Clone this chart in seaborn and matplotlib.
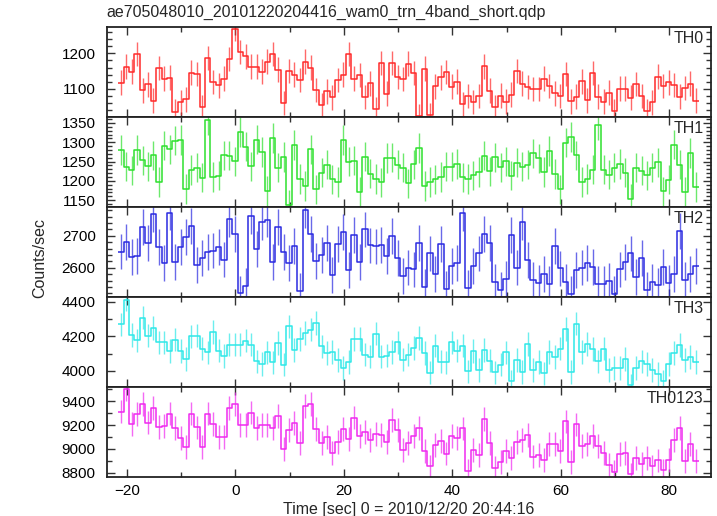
import numpy as np
import pandas as pd
import matplotlib as mpl
import matplotlib.pyplot as plt
import seaborn as sb
from matplotlib.ticker import MultipleLocator

mpl.use('Agg')

title = "ae705048010_20101220204416_wam0_trn_4band_short.qdp"

# 1 s bins, first bin centred at -21.1 s
t_first = -21.1
n_bins = 107
time = t_first + np.arange(n_bins)

th0 = [1117, 1162, 1148, 1198, 1095, 1112, 1066, 1159, 1128, 1131, 1035, 1061, 1070, 1145, 1142, 1048,
       1187, 1119, 1109, 1128, 1184, 1269, 1204, 1192, 1162, 1162, 1148, 1177, 1198, 1154, 1059, 1150,
       1140, 1125, 1177, 1160, 1096, 1054, 1092, 1075, 1125, 1140, 1198, 1128, 1139, 1076, 1115, 1042,
       1173, 1086, 1173, 1133, 1127, 1171, 1144, 1022, 1157, 1024, 1107, 1132, 1147, 1106, 1120, 1056,
       1079, 1062, 1079, 1163, 1094, 1047, 1080, 1063, 1083, 1150, 1114, 1105, 1099, 1099, 1128, 1108,
       1087, 1079, 1142, 1064, 1077, 1121, 1067, 1144, 1077, 1063, 1089, 1037, 1100, 1100, 1074, 1113,
       1079, 1037, 1061, 1134, 1108, 1118, 1110, 1077, 1102, 1114, 1066]
th1 = [1280, 1237, 1227, 1280, 1253, 1238, 1266, 1197, 1291, 1282, 1304, 1306, 1179, 1228, 1234, 1208,
       1358, 1210, 1213, 1266, 1265, 1251, 1327, 1289, 1238, 1307, 1275, 1174, 1311, 1234, 1262, 1137,
       1293, 1205, 1187, 1282, 1178, 1221, 1242, 1204, 1197, 1306, 1250, 1252, 1172, 1263, 1219, 1205,
       1196, 1259, 1260, 1242, 1234, 1194, 1243, 1285, 1187, 1197, 1204, 1210, 1237, 1237, 1244, 1209,
       1205, 1214, 1223, 1265, 1225, 1261, 1235, 1251, 1213, 1247, 1237, 1242, 1271, 1258, 1223, 1277,
       1218, 1178, 1299, 1314, 1266, 1197, 1205, 1229, 1344, 1229, 1216, 1234, 1244, 1221, 1153, 1234,
       1226, 1214, 1234, 1248, 1173, 1203, 1294, 1242, 1171, 1272, 1184]
th2 = [2651, 2682, 2634, 2636, 2728, 2677, 2767, 2664, 2614, 2773, 2619, 2664, 2696, 2732, 2608, 2631,
       2650, 2654, 2665, 2626, 2753, 2707, 2520, 2543, 2761, 2660, 2742, 2751, 2619, 2727, 2649, 2614,
       2668, 2527, 2782, 2707, 2621, 2640, 2678, 2578, 2675, 2711, 2593, 2703, 2618, 2720, 2670, 2667,
       2671, 2637, 2699, 2630, 2574, 2601, 2595, 2677, 2541, 2645, 2582, 2674, 2534, 2605, 2614, 2770,
       2536, 2607, 2645, 2707, 2678, 2557, 2532, 2566, 2703, 2601, 2742, 2624, 2563, 2553, 2582, 2549,
       2668, 2598, 2555, 2518, 2593, 2601, 2616, 2603, 2549, 2549, 2559, 2518, 2595, 2619, 2645, 2572,
       2632, 2532, 2556, 2545, 2603, 2553, 2582, 2716, 2561, 2580, 2605]
th3 = [4270, 4414, 4208, 4177, 4309, 4204, 4250, 4165, 4165, 4115, 4181, 4115, 4070, 4200, 4204, 4130,
       4107, 4227, 4118, 4087, 4153, 4153, 4153, 4175, 4153, 4056, 4041, 4107, 4049, 4163, 4037, 4258,
       4122, 4186, 4219, 4239, 4278, 4142, 4103, 4109, 4064, 4017, 4052, 4186, 4186, 4095, 4083, 4216,
       4083, 4089, 4111, 4165, 4065, 4095, 4134, 4192, 4103, 3990, 4146, 4054, 4049, 4165, 4118, 4146,
       3998, 4115, 4006, 4122, 4060, 3992, 4037, 4107, 3940, 4064, 3994, 4157, 4006, 4052, 3986, 4111,
       4080, 4130, 4243, 3994, 4274, 4111, 4157, 4126, 4056, 4130, 4006, 4017, 4017, 4068, 3917, 4017,
       4056, 4041, 4006, 3982, 3940, 4041, 4103, 4150, 4064, 4080, 4052]
th0123 = [9314, 9500, 9208, 9292, 9381, 9222, 9342, 9186, 9194, 9297, 9175, 9092, 9014, 9297, 9181, 9014,
          9297, 9208, 9103, 9103, 9347, 9375, 9203, 9203, 9306, 9175, 9203, 9203, 9175, 9278, 9000, 9158,
          9217, 9047, 9364, 9381, 9169, 9047, 9103, 8964, 9058, 9167, 9083, 9264, 9111, 9144, 9075, 9125,
          9119, 9055, 9242, 9158, 8994, 9053, 9108, 9175, 8980, 8853, 9033, 9064, 8961, 9108, 9092, 9172,
          8814, 8992, 8947, 9250, 9053, 8841, 8889, 8983, 8925, 9058, 9075, 9119, 8936, 8947, 8908, 9042,
          9042, 8980, 9231, 8891, 9206, 9025, 9042, 9108, 9025, 8969, 8864, 8808, 8958, 8969, 8786, 8925,
          8875, 8925, 8853, 8903, 8819, 8908, 9075, 9175, 8897, 9042, 8900]

bands = ["TH0", "TH1", "TH2", "TH3", "TH0123"]
series = [th0, th1, th2, th3, th0123]
errors = [35, 38, 56, 68, 100]
colours = ["#ff2a2a", "#2ee02e", "#2a2ae0", "#2ee8e8", "#f02af0"]
ylims = [(1019, 1274), (1132, 1365), (2509, 2790), (3908, 4429), (8767, 9522)]
major_step = [100, 50, 100, 200, 200]
minor_step = [20, 10, 20, 100, 100]

sb.set_theme(style="ticks")
plt.rcParams['font.family'] = ['Liberation Sans', 'DejaVu Sans']
plt.rc('xtick', labelsize=11)
plt.rc('ytick', labelsize=11)

fig, axes = plt.subplots(5, 1, sharex=True, figsize=(7.17, 5.16), dpi=100)
fig.subplots_adjust(left=0.149, right=0.9916, top=0.947, bottom=0.0762, hspace=0)

for i, ax in enumerate(axes):
    df = pd.DataFrame({'time': time, 'rate': series[i]})
    sb.lineplot(x='time', y='rate', data=df, drawstyle='steps-mid', color=colours[i],
                linewidth=1.1, ax=ax)
    # half bins at both ends so the steps cover whole bins
    ax.hlines([series[i][0], series[i][-1]], [time[0] - 0.5, time[-1]], [time[0], time[-1] + 0.5],
              color=colours[i], linewidth=1.1)
    ax.vlines(df['time'], df['rate'] - errors[i], df['rate'] + errors[i],
              color=colours[i], linewidth=1.0, alpha=0.7)
    ax.set_ylim(*ylims[i])
    ax.set_xlim(-23.7, 87.7)
    ax.yaxis.set_major_locator(MultipleLocator(major_step[i]))
    ax.yaxis.set_minor_locator(MultipleLocator(minor_step[i]))
    ax.xaxis.set_major_locator(MultipleLocator(20))
    ax.xaxis.set_minor_locator(MultipleLocator(10))
    ax.tick_params(which='both', direction='in', top=True, right=True, colors='#333333',
                   labelcolor='black', width=1.0)
    ax.tick_params(which='major', length=6)
    ax.tick_params(which='minor', length=3.5)
    ax.tick_params(axis='y', which='major', pad=8)
    ax.tick_params(axis='x', which='major', pad=5)
    for s in ax.spines.values():
        s.set_linewidth(1.3)
        s.set_color('#222222')
    ax.set_xlabel('')
    ax.set_ylabel('')
    ax.text(0.988, 0.955, bands[i], transform=ax.transAxes, ha='right', va='top', fontsize=11.5)

axes[1].set_yticks([1150, 1200, 1250, 1300, 1350])
axes[-1].set_xlabel("Time [sec] 0 = 2010/12/20 20:44:16", fontsize=11.5, labelpad=3)
fig.text(0.056, 0.5, "Counts/sec", rotation=90, ha='center', va='center', fontsize=11.5)
fig.text(0.149, 0.975, title, ha='left', va='center', fontsize=11.5)

fig.savefig('out.png', dpi=100)
